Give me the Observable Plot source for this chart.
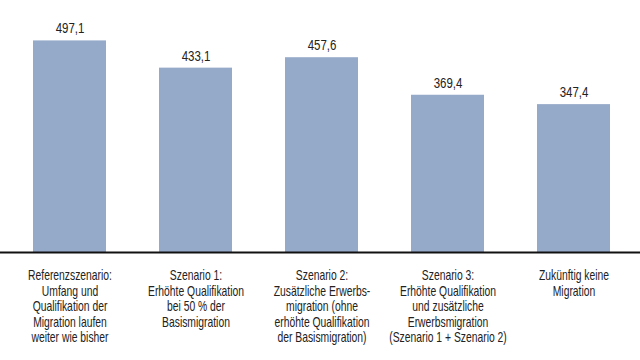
<!DOCTYPE html>
<html>
<head>
<meta charset="utf-8">
<script src="https://cdn.jsdelivr.net/npm/d3@7"></script>
<script src="https://cdn.jsdelivr.net/npm/@observablehq/plot@0.6"></script>
<style>
  html, body { margin: 0; padding: 0; background: #fff; }
  #chart { width: 640px; height: 360px; }
</style>
</head>
<body>
<div id="chart"></div>
<script>
const categories = ["Referenzszenario", "Szenario 1", "Szenario 2", "Szenario 3", "Keine Migration"];
const values = [497.1, 433.1, 457.6, 369.4, 347.4];
const tickLabels = [
  "Referenzszenario:\nUmfang und\nQualifikation der\nMigration laufen\nweiter wie bisher",
  "Szenario 1:\nErhöhte Qualifikation\nbei 50 % der\nBasismigration",
  "Szenario 2:\nZusätzliche Erwerbs-\nmigration (ohne\nerhöhte Qualifikation\nder Basismigration)",
  "Szenario 3:\nErhöhte Qualifikation\nund zusätzliche\nErwerbsmigration\n(Szenario 1 + Szenario 2)",
  "Zukünftig keine\nMigration"
];

const data = categories.map((c, i) => ({category: c, value: values[i], label: tickLabels[i]}));
const fmt = d3.formatLocale({decimal: ",", thousands: ".", grouping: [3], currency: ["", " €"]}).format(".1f");
const font = "'Liberation Sans', Arial, sans-serif";

const chart = Plot.plot({
  width: 640,
  height: 360,
  marginLeft: 0,
  marginRight: 0,
  marginTop: 0,
  marginBottom: 108,
  style: {fontFamily: font, fontSize: "14px", color: "#333", background: "#fff"},
  x: {domain: categories, range: [5, 637.5], paddingInner: 0.42, paddingOuter: 0.21, axis: null},
  y: {domain: [0, 592], axis: null},
  marks: [
    Plot.barY(data, {x: "category", y: "value", fill: "#95a9c9"}),
    Plot.text(data, {x: "category", y: "value", text: d => fmt(d.value), dy: -12, fill: "#222", fontSize: 14}),
    Plot.ruleY([0], {stroke: "#111", strokeWidth: 2}),
    Plot.text(data, {x: "category", y: 0, text: "label", lineAnchor: "top", dy: 17, lineHeight: 1.1, fill: "#222", fontSize: 14})
  ]
});
// condense the lettering horizontally (the reference uses a condensed typeface)
const textGroups = chart.querySelectorAll('g[aria-label="text"]');
const scales = [0.82, 0.74];
textGroups.forEach((g, gi) => {
  const k = scales[gi] ?? 0.78;
  g.querySelectorAll("text").forEach(t => {
    const tr = t.getAttribute("transform");
    if (tr) t.setAttribute("transform", tr + ` scale(${k},1)`);
  });
});
document.getElementById("chart").appendChild(chart);
</script>
</body>
</html>
